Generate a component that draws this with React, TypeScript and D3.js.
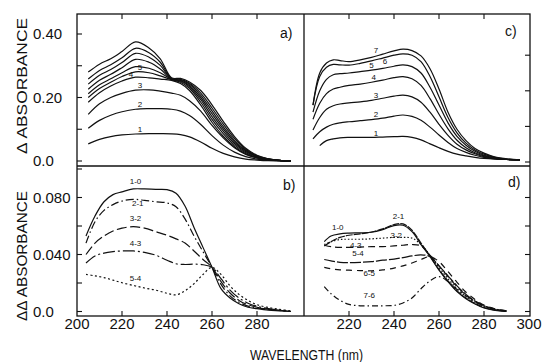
import * as d3 from 'd3';

// wavelength grids (nm) for each panel
const nmA = [205, 210, 215, 220, 226, 232, 237, 242, 246, 250, 255, 260, 265, 270, 275, 280, 285, 290, 295];
const nmB = [204, 208, 212, 216, 220, 225, 230, 235, 240, 244, 248, 252, 256, 260, 264, 268, 272, 276, 280, 285, 290, 295];
const nmC = [204, 207, 210, 213, 216, 220, 225, 230, 235, 240, 244, 248, 252, 256, 260, 264, 268, 272, 276, 280, 285, 290, 296];
const nmD = [209, 212, 216, 220, 225, 230, 235, 240, 244, 248, 252, 256, 260, 264, 268, 272, 276, 280, 285, 290];

// a) absorbance spectra 1..10
const spectraA = [
  [0.054, 0.068, 0.077, 0.082, 0.085, 0.086, 0.086, 0.0855, 0.083, 0.076, 0.060, 0.040, 0.024, 0.013, 0.006, 0.003, 0.001, 0.0005, 0],
  [0.103, 0.128, 0.144, 0.155, 0.163, 0.165, 0.165, 0.163, 0.157, 0.143, 0.115, 0.080, 0.050, 0.028, 0.014, 0.006, 0.003, 0.001, 0],
  [0.147, 0.180, 0.200, 0.213, 0.223, 0.224, 0.220, 0.214, 0.207, 0.190, 0.157, 0.112, 0.073, 0.042, 0.021, 0.010, 0.004, 0.001, 0],
  [0.185, 0.215, 0.236, 0.252, 0.264, 0.262, 0.258, 0.254, 0.244, 0.222, 0.176, 0.122, 0.078, 0.045, 0.023, 0.010, 0.004, 0.001, 0],
  [0.200, 0.228, 0.248, 0.266, 0.281, 0.278, 0.268, 0.256, 0.248, 0.229, 0.185, 0.131, 0.086, 0.050, 0.026, 0.011, 0.005, 0.002, 0],
  [0.212, 0.240, 0.259, 0.278, 0.297, 0.292, 0.278, 0.257, 0.251, 0.234, 0.193, 0.140, 0.094, 0.055, 0.029, 0.013, 0.005, 0.002, 0],
  [0.226, 0.254, 0.273, 0.294, 0.320, 0.311, 0.290, 0.258, 0.253, 0.238, 0.200, 0.149, 0.101, 0.060, 0.032, 0.014, 0.006, 0.002, 0],
  [0.242, 0.270, 0.288, 0.310, 0.339, 0.327, 0.301, 0.259, 0.255, 0.242, 0.207, 0.158, 0.108, 0.065, 0.034, 0.015, 0.006, 0.002, 0],
  [0.258, 0.285, 0.303, 0.325, 0.355, 0.341, 0.311, 0.260, 0.257, 0.245, 0.214, 0.167, 0.116, 0.071, 0.037, 0.016, 0.007, 0.002, 0],
  [0.280, 0.305, 0.322, 0.345, 0.375, 0.356, 0.322, 0.262, 0.260, 0.249, 0.222, 0.177, 0.125, 0.077, 0.040, 0.018, 0.007, 0.002, 0],
];
const labelsA = ['1', '2', '3', '4', '5'];

// b) difference spectra
const diffB = [
  [0.053, 0.067, 0.077, 0.082, 0.084, 0.086, 0.086, 0.0857, 0.0855, 0.083, 0.074, 0.059, 0.045, 0.031, 0.016, 0.0095, 0.0055, 0.003, 0.002, 0.001, 0.0005, 0],
  [0.048, 0.063, 0.071, 0.075, 0.0775, 0.0787, 0.078, 0.077, 0.0762, 0.0735, 0.065, 0.053, 0.042, 0.031, 0.019, 0.011, 0.0065, 0.0038, 0.0025, 0.0014, 0.0007, 0],
  [0.040, 0.048, 0.053, 0.0565, 0.0585, 0.0595, 0.0585, 0.056, 0.0535, 0.051, 0.048, 0.0425, 0.0365, 0.031, 0.021, 0.013, 0.0078, 0.0047, 0.003, 0.0017, 0.0009, 0],
  [0.034, 0.039, 0.041, 0.042, 0.0425, 0.0425, 0.0415, 0.0395, 0.036, 0.0335, 0.033, 0.0332, 0.0328, 0.031, 0.023, 0.015, 0.0095, 0.0058, 0.0036, 0.002, 0.001, 0],
  [0.026, 0.025, 0.0238, 0.022, 0.0202, 0.0183, 0.0165, 0.015, 0.0128, 0.0117, 0.0145, 0.0195, 0.026, 0.031, 0.026, 0.018, 0.012, 0.0078, 0.0048, 0.0028, 0.0015, 0.0005],
];
const labelsB = ['1-0', '2-1', '3-2', '4-3', '5-4'];

// c) absorbance spectra 1..7
const spectraC = [
  [null, 0.046, 0.060, 0.065, 0.068, 0.069, 0.069, 0.069, 0.070, 0.071, 0.072, 0.069, 0.062, 0.051, 0.040, 0.030, 0.022, 0.017, 0.013, 0.010, 0.008, 0.007, 0.006],
  [0.065, 0.085, 0.098, 0.106, 0.110, 0.113, 0.116, 0.119, 0.123, 0.129, 0.132, 0.128, 0.117, 0.098, 0.076, 0.055, 0.038, 0.027, 0.019, 0.013, 0.009, 0.007, 0.006],
  [0.090, 0.125, 0.148, 0.158, 0.163, 0.166, 0.169, 0.173, 0.179, 0.185, 0.188, 0.183, 0.168, 0.140, 0.106, 0.075, 0.050, 0.034, 0.023, 0.015, 0.010, 0.007, 0.006],
  [0.120, 0.165, 0.192, 0.205, 0.210, 0.215, 0.219, 0.224, 0.230, 0.237, 0.240, 0.234, 0.215, 0.178, 0.134, 0.093, 0.061, 0.040, 0.026, 0.017, 0.011, 0.007, 0.006],
  [0.140, 0.200, 0.232, 0.245, 0.248, 0.250, 0.254, 0.258, 0.263, 0.269, 0.273, 0.268, 0.250, 0.210, 0.160, 0.110, 0.072, 0.047, 0.030, 0.019, 0.012, 0.008, 0.006],
  [0.160, 0.240, 0.266, 0.274, 0.273, 0.272, 0.277, 0.284, 0.292, 0.300, 0.304, 0.300, 0.282, 0.240, 0.183, 0.125, 0.082, 0.053, 0.034, 0.022, 0.013, 0.008, 0.006],
  [0.160, 0.250, 0.278, 0.287, 0.285, 0.282, 0.287, 0.294, 0.303, 0.312, 0.317, 0.313, 0.298, 0.262, 0.205, 0.140, 0.092, 0.060, 0.038, 0.025, 0.014, 0.009, 0.006],
];
const labelsC = ['1', '2', '3', '4', '5', '6', '7'];

// d) difference spectra
const diffD = [
  [0.049, 0.053, 0.0545, 0.055, 0.0552, 0.0556, 0.0575, 0.0603, 0.0605, 0.056, 0.047, 0.0385, 0.029, 0.021, 0.014, 0.009, 0.0053, 0.0025, 0.0008, 0],
  [0.046, 0.049, 0.052, 0.0535, 0.0545, 0.0558, 0.058, 0.061, 0.0615, 0.057, 0.048, 0.039, 0.0295, 0.0215, 0.0145, 0.0095, 0.0057, 0.0028, 0.001, 0],
  [0.047, 0.049, 0.0505, 0.0507, 0.0507, 0.051, 0.0515, 0.052, 0.052, 0.0515, 0.047, 0.0395, 0.031, 0.023, 0.016, 0.0105, 0.0065, 0.0035, 0.0013, 0.0003],
  [0.0465, 0.0455, 0.045, 0.045, 0.0452, 0.0455, 0.0455, 0.046, 0.0465, 0.047, 0.046, 0.0395, 0.032, 0.0245, 0.0175, 0.0115, 0.007, 0.0038, 0.0015, 0.0004],
  [0.0365, 0.0355, 0.0345, 0.0343, 0.0345, 0.035, 0.036, 0.0368, 0.0378, 0.039, 0.0398, 0.0385, 0.032, 0.025, 0.018, 0.012, 0.0073, 0.004, 0.0016, 0.0004],
  [0.031, 0.030, 0.0292, 0.029, 0.0287, 0.0286, 0.0292, 0.0305, 0.032, 0.034, 0.0365, 0.0385, 0.035, 0.028, 0.0205, 0.0135, 0.0085, 0.0045, 0.0018, 0.0005],
  [0.0175, 0.0125, 0.0078, 0.005, 0.004, 0.0039, 0.004, 0.0043, 0.006, 0.0095, 0.016, 0.0215, 0.0245, 0.021, 0.0155, 0.011, 0.0072, 0.004, 0.0017, 0.0005],
];
const labelsD = ['1-0', '2-1', '3-2', '4-3', '5-4', '6-5', '7-6'];

// axis ticks
const xTicks = [220, 240, 260, 280];
const xLabelsL = [200, 220, 240, 260, 280];
const xLabelsR = [220, 240, 260, 280, 300];
const yTicksA = [0, 0.1, 0.2, 0.3, 0.4];
const yLabelsA = [0, 0.2, 0.4];
const yTicksB = [0, 0.02, 0.04, 0.06, 0.08, 0.1];
const yLabelsB = [0, 0.04, 0.08];
const yTicksC = [0, 0.1, 0.2, 0.3];

const FONT = 'Liberation Sans, Arial, sans-serif';
const INK = '#111';

const L = 77, R = 530, T = 14, M = 166, B = 316, S = 304;

const xL = d3.scaleLinear().domain([200, 300]).range([77, 302]);
const xR = d3.scaleLinear().domain([200, 300]).range([304, 529]);
const yA = d3.scaleLinear().domain([0, 0.4]).range([161, 34]);
const yB = d3.scaleLinear().domain([0, 0.08]).range([311.5, 197.5]);
const yC = d3.scaleLinear().domain([0, 0.1]).range([162, 126.4]);

const dashB = [undefined, '8,3,1.5,3', '10,3.5', '12,3,2,3', '2,2.5'];
const dashD = [undefined, '7,1', '1.5,2', '7,4', '11,2', '6,5', '6,3,1.5,3'];

// label placement: [nm, pixel offset from the curve]
const labPosA = [[228, -2], [228, -2], [228, -2], [224, -1], [228, -2]];
const labPosB = [[226, -5], [227, 6], [226, -6], [226, -5], [226, -5]];
const labPosC = [[232, -1], [232, -2], [232, -2], [231, -2], [230, -2], [236, 7], [232, -3]];
const labPosD = [[215, -4], [242, -5], [241, 1], [223, 1], [224, -6], [229, 5], [229, -8]];

function Curves({ nm, series, x, y, dash }: any) {
  const line = d3
    .line<number | null>()
    .defined((d) => d != null)
    .x((_d, i) => x(nm[i]))
    .y((d) => y(d as number))
    .curve(d3.curveCatmullRom.alpha(0.5));
  return (
    <g>
      {series.map((s: (number | null)[], k: number) => (
        <path key={k} d={line(s) || ''} fill="none" stroke={INK} strokeWidth={1.2}
          strokeDasharray={dash ? dash[k] : undefined} />
      ))}
    </g>
  );
}

// linear read of a series at wavelength w (for placing the curve labels)
function valueAt(nm: number[], s: (number | null)[], w: number) {
  const pts = nm.map((n, i) => [n, s[i]]).filter((p) => p[1] != null) as number[][];
  for (let i = 1; i < pts.length; i++) {
    if (w <= pts[i][0]) {
      const t = (w - pts[i - 1][0]) / (pts[i][0] - pts[i - 1][0]);
      return pts[i - 1][1] + t * (pts[i][1] - pts[i - 1][1]);
    }
  }
  return pts[pts.length - 1][1];
}

function Labels({ nm, series, labels, pos, x, y }: any) {
  return (
    <g fontFamily={FONT} fontSize={8} fill={INK} textAnchor="middle">
      {labels.map((lab: string, k: number) => {
        const [w, off] = pos[k];
        return (
          <text key={k} x={x(w)} y={y(valueAt(nm, series[k], w)) + off}>{lab}</text>
        );
      })}
    </g>
  );
}

export default function App() {
  return (
    <svg width={546} height={362} style={{ position: 'absolute', left: 0, top: 0, background: '#fff' }}>
      <rect width={546} height={362} fill="#fff" />

      <Curves nm={nmA} series={spectraA} x={xL} y={yA} />
      <Curves nm={nmB} series={diffB} x={xL} y={yB} dash={dashB} />
      <Curves nm={nmC} series={spectraC} x={xR} y={yC} />
      <Curves nm={nmD} series={diffD} x={xR} y={yB} dash={dashD} />

      <Labels nm={nmA} series={spectraA} labels={labelsA} pos={labPosA} x={xL} y={yA} />
      <Labels nm={nmB} series={diffB} labels={labelsB} pos={labPosB} x={xL} y={yB} />
      <Labels nm={nmC} series={spectraC} labels={labelsC} pos={labPosC} x={xR} y={yC} />
      <Labels nm={nmD} series={diffD} labels={labelsD} pos={labPosD} x={xR} y={yB} />

      {/* frame */}
      <g stroke={INK} strokeWidth={1.3} fill="none">
        <rect x={L} y={T} width={R - L} height={B - T} />
        <line x1={L} x2={R} y1={M} y2={M} />
        <line x1={S} x2={S} y1={T} y2={B} />
      </g>

      {/* ticks */}
      <g stroke={INK} strokeWidth={1.1}>
        {xTicks.map((t) => (
          <g key={t}>
            <line x1={xL(t)} x2={xL(t)} y1={T} y2={T + 5} />
            <line x1={xR(t)} x2={xR(t)} y1={T} y2={T + 5} />
            <line x1={xL(t)} x2={xL(t)} y1={B} y2={B - 5} />
            <line x1={xR(t)} x2={xR(t)} y1={B} y2={B - 5} />
          </g>
        ))}
        {yTicksA.map((t) => <line key={'a' + t} x1={L} x2={L + 5} y1={yA(t)} y2={yA(t)} />)}
        {yTicksB.map((t) => <line key={'b' + t} x1={L} x2={L + 5} y1={yB(t)} y2={yB(t)} />)}
        {yTicksC.map((t) => <line key={'c' + t} x1={R} x2={R - 5} y1={yC(t)} y2={yC(t)} />)}
        {yTicksB.slice(0, 5).map((t) => <line key={'d' + t} x1={R} x2={R - 5} y1={yB(t)} y2={yB(t)} />)}
      </g>

      {/* tick labels */}
      <g fontFamily={FONT} fontSize={15} fill={INK}>
        {yLabelsA.map((t) => (
          <text key={'la' + t} x={33} y={yA(t)} dy="0.35em">{t === 0 ? '0.0' : t.toFixed(2)}</text>
        ))}
        {yLabelsB.map((t) => (
          <text key={'lb' + t} x={33} y={yB(t)} dy="0.35em">{t === 0 ? '0.0' : t.toFixed(3)}</text>
        ))}
        {xLabelsL.map((t) => (
          <text key={'xl' + t} x={xL(t)} y={329} textAnchor="middle">{t}</text>
        ))}
        {xLabelsR.map((t) => (
          <text key={'xr' + t} x={xR(t)} y={329} textAnchor="middle">{t}</text>
        ))}
      </g>

      {/* panel letters */}
      <g fontFamily={FONT} fontSize={14} fill={INK}>
        <text x={280} y={38}>a)</text>
        <text x={505} y={36}>c)</text>
        <text x={283} y={190}>b)</text>
        <text x={508} y={187}>d)</text>
      </g>

      {/* axis titles */}
      <g fontFamily={FONT} fontSize={15} fill={INK}>
        <text transform="translate(22,86) rotate(-90)" textAnchor="middle" dy="0.35em"
          textLength={136} lengthAdjust="spacingAndGlyphs">Δ ABSORBANCE</text>
        <text transform="translate(22,256) rotate(-90)" textAnchor="middle" dy="0.35em"
          textLength={130} lengthAdjust="spacingAndGlyphs">ΔΔ ABSORBANCE</text>
        <text x={250} y={360} textLength={113} lengthAdjust="spacingAndGlyphs">WAVELENGTH (nm)</text>
      </g>
    </svg>
  );
}
